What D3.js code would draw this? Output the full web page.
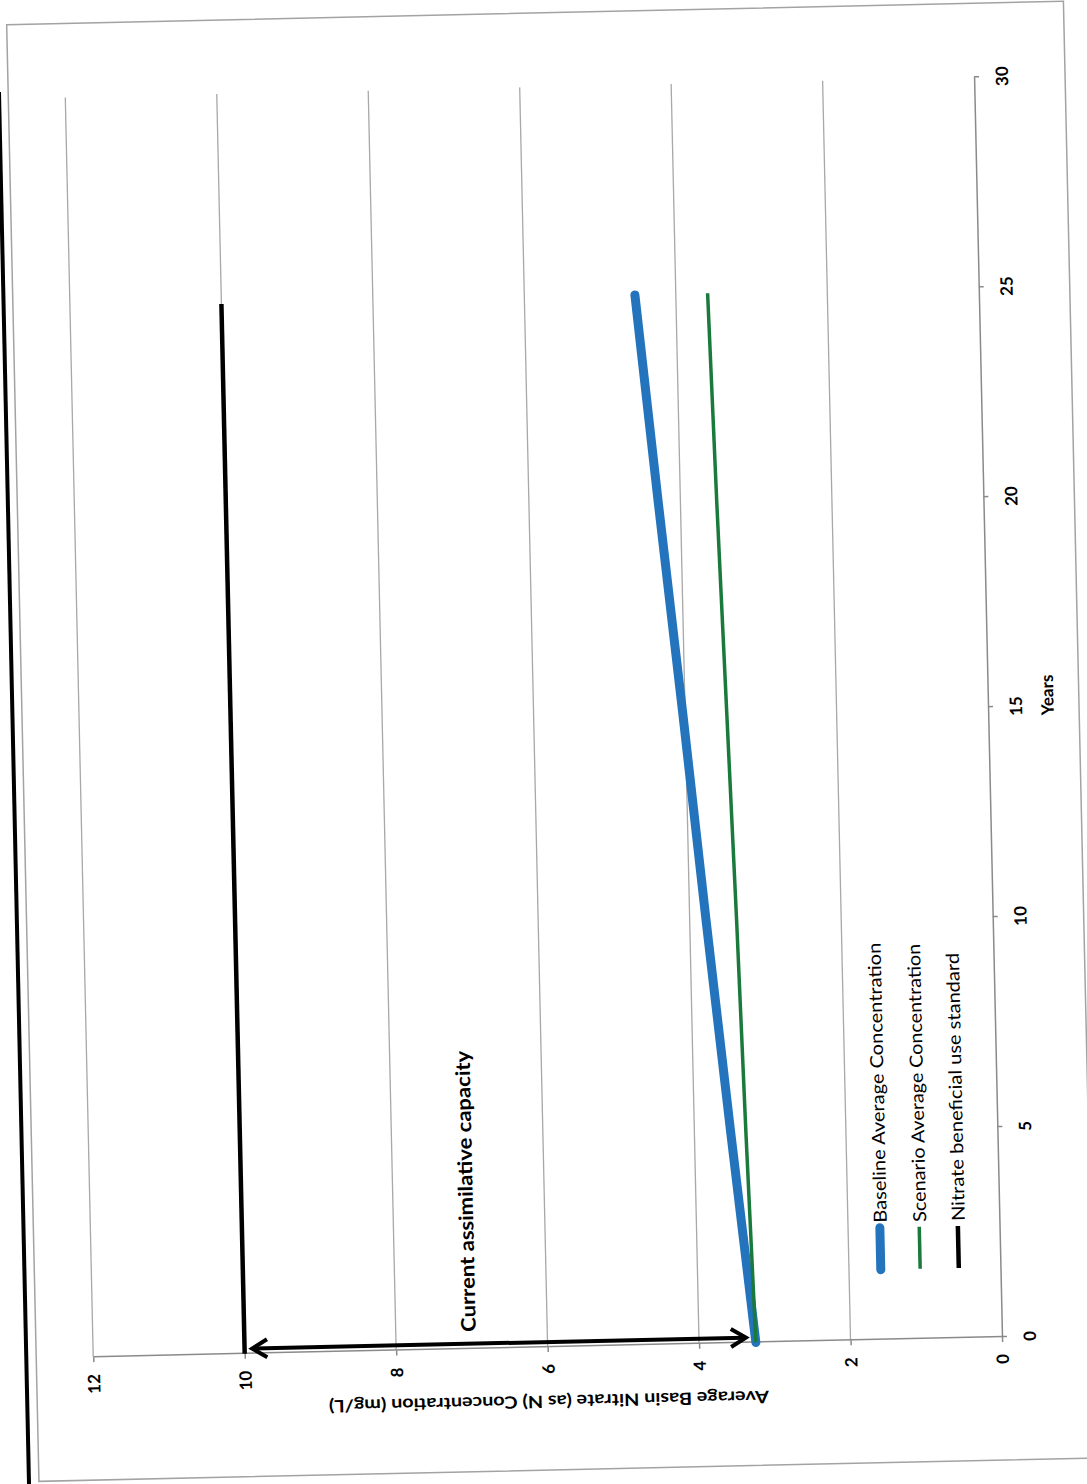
<!DOCTYPE html>
<html>
<head>
<meta charset="utf-8">
<script src="https://cdn.jsdelivr.net/npm/d3@7"></script>
<style>
  html, body { margin: 0; padding: 0; background: #fff; }
  svg { display: block; }
  text { font-family: Lato, "Open Sans", sans-serif; fill: #000; }
</style>
</head>
<body>
<svg id="chart" width="1087" height="1484"></svg>
<script>
// ---- data ----
const years = [0, 5, 10, 15, 20, 25];
const baseline = [3.25, 3.52, 3.78, 4.03, 4.29, 4.54];
const scenario = [3.25, 3.32, 3.38, 3.45, 3.52, 3.58];
const standardYears = [0, 25];
const standard = [10, 10];
const yearTicks = [0, 5, 10, 15, 20, 25, 30];
const concTicks = [0, 2, 4, 6, 8, 10, 12];
const seriesNames = [
  "Baseline Average Concentration",
  "Scenario Average Concentration",
  "Nitrate beneficial use standard"
];
const seriesColors = ["#2373bd", "#1a7a3c", "#000000"];
const capacitySpan = [9.9, 3.38];   // from the standard down to today's level
const capacityYear = 0.12;
const capacityLabel = "Current assimilative capacity";
const xTitle = "Years";
const yTitle = "Average Basin Nitrate (as N) Concentration (mg/L)";

// ---- layout ----
const W = 1260, H = 909;
const ROT = -91.27;
const x = d3.scaleLinear().domain([0, 30]).range([0, W]);
const y = d3.scaleLinear().domain([0, 12]).range([H, 0]);

const svg = d3.select("#chart");

// sheet edge
svg.append("line")
  .attr("x1", -1).attr("y1", 92).attr("x2", 29).attr("y2", 1484)
  .attr("stroke", "#000").attr("stroke-width", 4);

const g = svg.append("g")
  .attr("transform", `translate(1002,1337) rotate(${ROT}) translate(0,${-H})`);

// chart frame
g.append("rect")
  .attr("x", -123).attr("y", -57).attr("width", 1457).attr("height", 1057)
  .attr("fill", "none").attr("stroke", "#a3a3a3").attr("stroke-width", 1.5);

// horizontal gridlines
g.append("g").selectAll("line")
  .data(concTicks.filter(d => d > 0))
  .join("line")
  .attr("x1", 0).attr("x2", W)
  .attr("y1", d => y(d)).attr("y2", d => y(d))
  .attr("stroke", "#a8a8a8").attr("stroke-width", 1.3);

// axes
const xAxis = g.append("g")
  .attr("transform", `translate(0,${H})`)
  .call(d3.axisBottom(x).tickValues(yearTicks).tickSize(5).tickSizeOuter(0));
const yAxis = g.append("g")
  .call(d3.axisLeft(y).tickValues(concTicks).tickSize(5).tickSizeOuter(0));

[xAxis, yAxis].forEach(a => {
  a.select(".domain").attr("stroke", "#8a8a8a").attr("stroke-width", 1.5);
  a.selectAll(".tick line").attr("stroke", "#8a8a8a").attr("stroke-width", 1.5);
  a.selectAll(".tick text")
    .attr("font-family", "Lato, sans-serif")
    .attr("font-weight", "bold").attr("font-size", 17).attr("fill", "#000");
});
xAxis.selectAll(".tick text").attr("y", 28).attr("dy", "0.35em");
yAxis.selectAll(".tick text").attr("x", -17).attr("dy", "0.35em");

// axis titles
g.append("text")
  .attr("x", x(15.26)).attr("y", H + 59)
  .attr("text-anchor", "middle").attr("dominant-baseline", "central")
  .attr("font-weight", "bold").attr("font-size", 17)
  .text(xTitle);
g.append("text")
  .attr("transform", `translate(-55,${y(6)}) rotate(-90)`)
  .attr("text-anchor", "middle").attr("dominant-baseline", "central")
  .attr("font-weight", "bold").attr("font-size", 17)
  .attr("textLength", 440).attr("lengthAdjust", "spacingAndGlyphs")
  .text(yTitle);

// series
const line = d3.line().x(d => x(d[0])).y(d => y(d[1]));
const series = [
  { pts: years.map((yr, i) => [yr, baseline[i]]), color: seriesColors[0], w: 9 },
  { pts: years.map((yr, i) => [yr, scenario[i]]), color: seriesColors[1], w: 3.5 },
  { pts: standardYears.map((yr, i) => [yr, standard[i]]), color: seriesColors[2], w: 4.5 }
];
g.append("g").selectAll("path")
  .data(series)
  .join("path")
  .attr("d", d => line(d.pts))
  .attr("fill", "none")
  .attr("stroke", d => d.color)
  .attr("stroke-width", d => d.w)
  .attr("stroke-linecap", (d, i) => i === 0 ? "round" : "butt");

// double-headed arrow showing the remaining capacity
const ax = x(capacityYear);
const ay1 = y(capacitySpan[0]), ay2 = y(capacitySpan[1]);
const arrow = g.append("g")
  .attr("fill", "none").attr("stroke", "#000")
  .attr("stroke-width", 4).attr("stroke-linejoin", "miter");
arrow.append("line").attr("x1", ax).attr("x2", ax).attr("y1", ay1 + 2).attr("y2", ay2 - 2);
arrow.append("path").attr("d", `M${ax - 9},${ay1 + 15}L${ax},${ay1}L${ax + 9},${ay1 + 15}`);
arrow.append("path").attr("d", `M${ax - 9},${ay2 - 15}L${ax},${ay2}L${ax + 9},${ay2 - 15}`);

g.append("text")
  .attr("x", 17).attr("y", y(7.05))
  .attr("dominant-baseline", "central")
  .attr("font-weight", "bold").attr("font-size", 20)
  .attr("textLength", 281).attr("lengthAdjust", "spacingAndGlyphs")
  .text(capacityLabel);

// legend
const legendRows = [1.58, 1.06, 0.55];
const legendLen = [280, 278, 268];
const legend = g.append("g").selectAll("g")
  .data(series)
  .join("g")
  .attr("transform", (d, i) => `translate(0,${y(legendRows[i])})`);
legend.append("line")
  .attr("x1", 70).attr("x2", 112)
  .attr("stroke", d => d.color)
  .attr("stroke-width", d => d.w)
  .attr("stroke-linecap", (d, i) => i === 0 ? "round" : "butt");
legend.append("text")
  .attr("x", 117).attr("dominant-baseline", "central")
  .attr("font-size", 18)
  .attr("textLength", (d, i) => legendLen[i]).attr("lengthAdjust", "spacingAndGlyphs")
  .text((d, i) => seriesNames[i]);
</script>
</body>
</html>
